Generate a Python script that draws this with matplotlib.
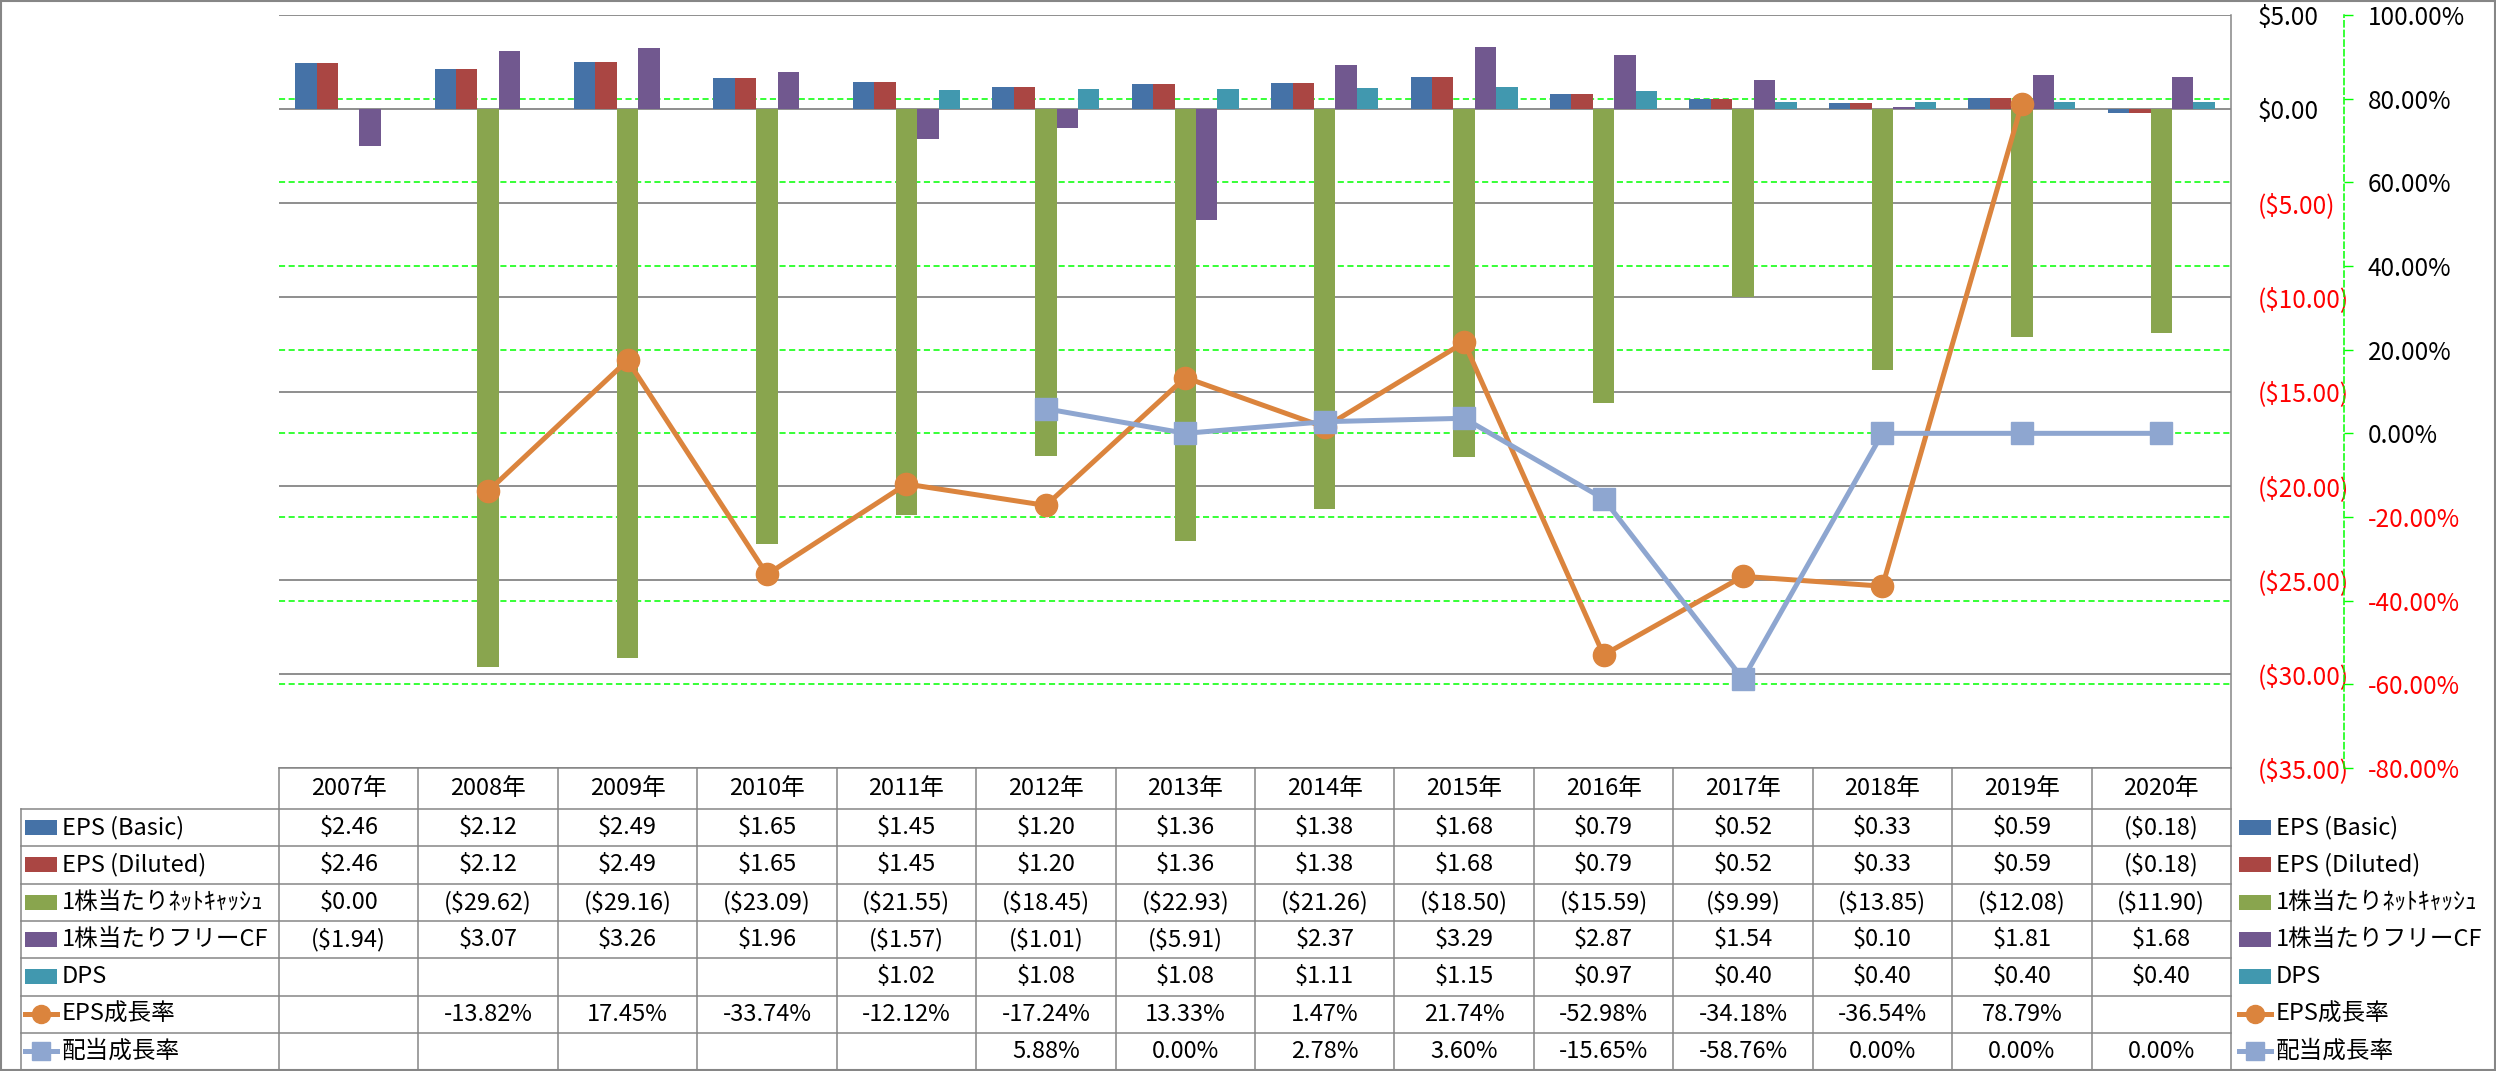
import matplotlib
matplotlib.use('Agg')
import matplotlib.pyplot as plt
import numpy as np
from matplotlib.transforms import blended_transform_factory
from matplotlib.patches import Rectangle
from matplotlib.lines import Line2D

plt.rcParams['font.family'] = ['Noto Sans CJK JP', 'DejaVu Sans']

nan = np.nan
years = ['2007年', '2008年', '2009年', '2010年', '2011年', '2012年', '2013年',
         '2014年', '2015年', '2016年', '2017年', '2018年', '2019年', '2020年']
eps_basic = [2.46, 2.12, 2.49, 1.65, 1.45, 1.20, 1.36, 1.38, 1.68, 0.79, 0.52, 0.33, 0.59, -0.18]
eps_diluted = [2.46, 2.12, 2.49, 1.65, 1.45, 1.20, 1.36, 1.38, 1.68, 0.79, 0.52, 0.33, 0.59, -0.18]
net_cash = [0.00, -29.62, -29.16, -23.09, -21.55, -18.45, -22.93, -21.26, -18.50, -15.59,
            -9.99, -13.85, -12.08, -11.90]
fcf = [-1.94, 3.07, 3.26, 1.96, -1.57, -1.01, -5.91, 2.37, 3.29, 2.87, 1.54, 0.10, 1.81, 1.68]
dps = [nan, nan, nan, nan, 1.02, 1.08, 1.08, 1.11, 1.15, 0.97, 0.40, 0.40, 0.40, 0.40]
eps_growth = [nan, -13.82, 17.45, -33.74, -12.12, -17.24, 13.33, 1.47, 21.74, -52.98,
              -34.18, -36.54, 78.79, nan]
div_growth = [nan, nan, nan, nan, nan, 5.88, 0.00, 2.78, 3.60, -15.65, -58.76, 0.00, 0.00, 0.00]

bar_names = ['EPS (Basic)', 'EPS (Diluted)', '1株当たりﾈｯﾄｷｬｯｼｭ', '1株当たりフリーCF', 'DPS']
line_names = ['EPS成長率', '配当成長率']
bar_series = [eps_basic, eps_diluted, net_cash, fcf, dps]
line_series = [eps_growth, div_growth]
bar_colors = ['#4572A7', '#AA4643', '#89A54E', '#71588F', '#4198AF']
line_colors = ['#DB843D', '#8EA6D0']
line_markers = ['o', 's']

usd_ticks = np.arange(-35, 5.01, 5)
pct_ticks = np.arange(-80, 100.01, 20)

GRAY = '#868686'
RED = '#FF0000'
GREEN = '#00FF00'

W, H = 2496, 1071
fig = plt.figure(figsize=(W / 100, H / 100), dpi=100)

PL, PR, PT, PB = 279, 2231, 15, 768
TL = 21
ax = fig.add_axes([PL / W, 1 - PB / H, (PR - PL) / W, (PB - PT) / H])
ax2 = ax.twinx()

n = len(years)
x = np.arange(n)
ax.set_xlim(-0.5, n - 0.5)
ax.set_ylim(-35, 5)
ax2.set_ylim(-80, 100)

w = 1 / 6.5
for i, (vals, col) in enumerate(zip(bar_series, bar_colors)):
    ax.bar(x + (i - 2) * w, vals, width=w, color=col, zorder=2, linewidth=0)

# primary axis (right side, dollars)
ax.set_xticks([])
ax.yaxis.tick_right()
ax.set_yticks(usd_ticks)
ax.set_yticklabels([f"${v:.2f}" if v >= 0 else f"(${-v:.2f})" for v in usd_ticks])
ax.tick_params(axis='y', length=0, pad=19, labelsize=17.5)
for tk, v in zip(ax.yaxis.get_major_ticks(), usd_ticks):
    tk.label1.set_color(RED if v < 0 else 'black')
    tk.label2.set_color(RED if v < 0 else 'black')
ax.yaxis.grid(True, color=GRAY, lw=1.3)
ax.set_axisbelow(True)
for s in ax.spines.values():
    s.set_visible(False)

# green dashed gridlines for the secondary axis (behind bars)
btf = blended_transform_factory(ax.transAxes, ax2.transData)
for p in pct_ticks[1:-1]:
    ax.plot([0, 1], [p, p], transform=btf, color=GREEN, lw=1.1,
            ls=(0, (4, 2.3)), zorder=0.8)

# secondary axis
for k, s in ax2.spines.items():
    s.set_visible(k == 'right')
ax2.spines['right'].set_position(('axes', (2344 - PL) / (PR - PL)))
ax2.spines['right'].set_color(GREEN)
ax2.spines['right'].set_linestyle((0, (4, 2.3)))
ax2.spines['right'].set_linewidth(1.1)
ax2.set_yticks(pct_ticks)
ax2.set_yticklabels([f"{v:.2f}%" for v in pct_ticks])
ax2.tick_params(axis='y', direction='out', length=6.5, width=1, color=GREEN,
                pad=10.5, labelsize=17.5)
for tk, v in zip(ax2.yaxis.get_major_ticks(), pct_ticks):
    tk.label1.set_color(RED if v < 0 else 'black')
    tk.label2.set_color(RED if v < 0 else 'black')

for vals, col, mk in zip(line_series, line_colors, line_markers):
    ax2.plot(x, vals, color=col, lw=3.6, marker=mk, ms=16, mfc=col, mec=col,
             zorder=3, solid_capstyle='round')

# ---------- data table & legend overlay (pixel coordinates) ----------
tax = fig.add_axes([0, 0, 1, 1])
tax.set_xlim(0, W)
tax.set_ylim(H, 0)
tax.axis('off')

LW = 1.1
col_edges = PL + np.arange(n + 1) * (PR - PL) / n
row_edges = [809 + i * 37.3 for i in range(8)]
tax.plot([PL, PR], [PB, PB], color=GRAY, lw=LW)
for y in row_edges:
    tax.plot([TL, PR], [y, y], color=GRAY, lw=LW)
tax.plot([TL, TL], [row_edges[0], row_edges[-1]], color=GRAY, lw=LW)
for cx in col_edges:
    tax.plot([cx, cx], [PB, row_edges[-1]], color=GRAY, lw=LW)
tax.plot([PR, PR], [PT, PB], color=GRAY, lw=LW)

# outer chart border
tax.add_patch(Rectangle((1, 1), W - 2, H - 2, fill=False, edgecolor=GRAY, lw=1.5))

FS = 17
centers = (col_edges[:-1] + col_edges[1:]) / 2
for cx, yr in zip(centers, years):
    tax.text(cx, (PB + row_edges[0]) / 2, yr, ha='center', va='center', fontsize=FS)


def fmt_usd(v):
    if v is None or np.isnan(v):
        return ''
    return f"${v:.2f}" if v >= 0 else f"(${-v:.2f})"


def fmt_pct(v):
    if v is None or np.isnan(v):
        return ''
    return f"{v:.2f}%"


all_names = bar_names + line_names
all_rows = [[fmt_usd(v) for v in s] for s in bar_series] + \
           [[fmt_pct(v) for v in s] for s in line_series]
row_centers = [(row_edges[i] + row_edges[i + 1]) / 2 for i in range(7)]

for r, (name, cells, yc) in enumerate(zip(all_names, all_rows, row_centers)):
    for cx, txt in zip(centers, cells):
        tax.text(cx, yc, txt, ha='center', va='center', fontsize=FS)
    for kx0, tx in [(25, 62), (2239, 2276)]:
        if r < 5:
            tax.add_patch(Rectangle((kx0, yc - 7.5), 32, 15, color=bar_colors[r], lw=0))
        else:
            li = r - 5
            tax.add_line(Line2D([kx0, kx0 + 32], [yc, yc], color=line_colors[li], lw=3.6))
            tax.add_line(Line2D([kx0 + 16], [yc], marker=line_markers[li], ms=13,
                                mfc=line_colors[li], mec=line_colors[li], lw=0))
        tax.text(tx, yc, name, ha='left', va='center', fontsize=FS)

fig.savefig('out.png', dpi=100)
